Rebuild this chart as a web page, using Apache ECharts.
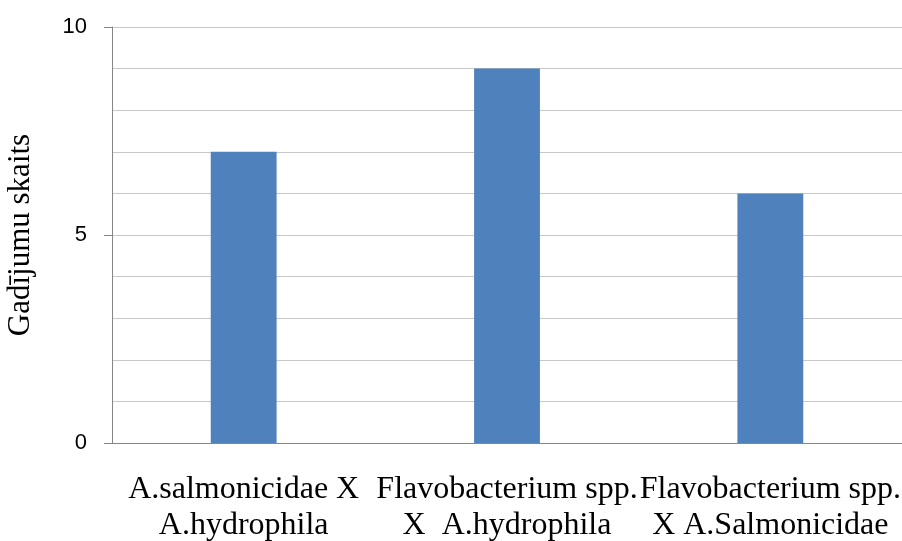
<!DOCTYPE html>
<html>
<head>
<meta charset="utf-8">
<script src="https://cdn.jsdelivr.net/npm/echarts@6/dist/echarts.min.js"></script>
<style>
  html, body { margin: 0; padding: 0; background: #ffffff; }
  #chart { width: 902px; height: 541px; }
</style>
</head>
<body>
<div id="chart"></div>
<script>
// Pair combinations of pathogens
const categories = [
  'A.salmonicidae X\nA.hydrophila',
  'Flavobacterium spp.\nX  A.hydrophila',
  'Flavobacterium spp.\nX A.Salmonicidae'
];
// Number of cases per combination
const caseCounts = [7, 9, 6];
// Labelled ticks on the value axis
const yTickLabels = [0, 5, 10];

const chart = echarts.init(document.getElementById('chart'));
chart.setOption({
  animation: false,
  grid: {
    left: 112, right: 0, top: 27, bottom: 98,
    containLabel: false,
    outerBoundsMode: 'none'
  },
  xAxis: {
    type: 'category',
    data: categories,
    axisLine: { show: true, lineStyle: { color: '#868686', width: 1 } },
    axisTick: { show: false },
    axisLabel: {
      margin: 29,
      fontFamily: '"Liberation Serif", "Times New Roman", serif',
      fontSize: 32,
      lineHeight: 36,
      color: '#000000',
      interval: 0,
      hideOverlap: false
    }
  },
  yAxis: {
    type: 'value',
    min: yTickLabels[0],
    max: yTickLabels[yTickLabels.length - 1],
    interval: yTickLabels[1] - yTickLabels[0],
    name: 'Gadījumu skaits',
    nameLocation: 'middle',
    nameRotate: 90,
    nameGap: 76,
    nameTextStyle: {
      fontFamily: '"Liberation Serif", "Times New Roman", serif',
      fontSize: 31,
      color: '#000000'
    },
    axisLine: { show: true, lineStyle: { color: '#868686', width: 1 } },
    axisTick: { show: true, length: 8, lineStyle: { color: '#868686' } },
    minorTick: { show: false, splitNumber: 5 },
    axisLabel: {
      margin: 25,
      fontFamily: '"Liberation Sans", Arial, sans-serif',
      fontSize: 22,
      color: '#000000'
    },
    splitLine: { show: true, lineStyle: { color: '#c8c8c8', width: 1 } },
    minorSplitLine: { show: true, lineStyle: { color: '#c8c8c8', width: 1 } }
  },
  series: [{
    type: 'bar',
    data: caseCounts,
    barWidth: '25%',
    itemStyle: { color: '#4f81bd' }
  }]
});
</script>
</body>
</html>
